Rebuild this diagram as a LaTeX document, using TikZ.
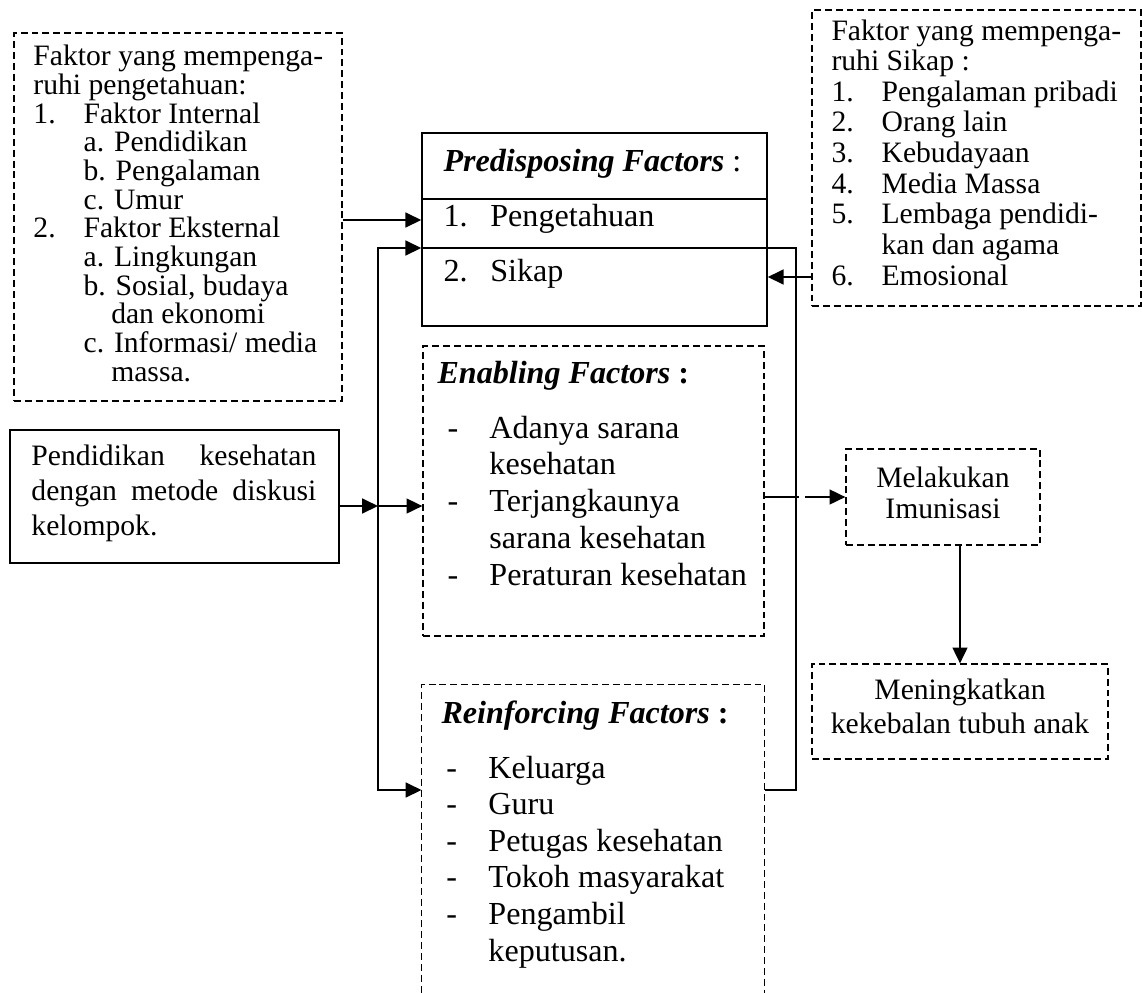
\documentclass[tikz,border=0pt]{standalone}
\usepackage{fontspec}
\setmainfont{Liberation Serif}
\usetikzlibrary{arrows.meta, fit}
\tikzstyle{dashbox} = [draw, dash pattern=on 2.8pt off 1.6pt, line width=0.5pt, inner sep=0pt]
\tikzstyle{solidbox} = [draw, line width=0.6pt, inner sep=0pt]
\tikzstyle{txt} = [inner sep=0pt, anchor=base west, align=left]
\tikzstyle{ctxt} = [inner sep=0pt, anchor=base, align=center]
\tikzstyle{arrow} = [line width=0.75pt, -{Triangle[length=6.4pt,width=6pt]}]
\tikzstyle{conn} = [line width=0.55pt]
\newcommand{\lnum}[1]{\makebox[20.3pt][l]{#1}}
\newcommand{\ldash}{\makebox[17pt][l]{-}}

\begin{document}
\begin{tikzpicture}[x=0.405pt, y=-0.405pt]
\useasboundingbox (0,0) rectangle (1142,992);

% boxes
\node (kn) [dashbox, fit={(14,33) (342,401)}] {};
\node (pf) [solidbox, fit={(422,133) (767,326)}] {};
\node (ks) [dashbox, fit={(812,10) (1141,306)}] {};
\node (pk) [solidbox, fit={(10,430) (339,563)}] {};
\node (ef) [dashbox, fit={(423,346) (764,636)}] {};
\node (rf) [fit={(422,685) (764,992)}, inner sep=0pt] {};
\node (mi) [dashbox, fit={(846,449) (1040,545)}] {};
\node (mk) [dashbox, fit={(812,664) (1108,759)}] {};
\draw [dashbox] (rf.south west) |- (rf.north east) -- (rf.south east);

% rows of the predisposing box
\coordinate (row1) at (0,220);
\coordinate (row2) at (0,248);
\coordinate (row3) at (0,277);
\coordinate (row4) at (0,790);
\coordinate (pfd) at (0,199);
\draw [solidbox] (pf.west |- pfd) -- (pf.east |- pfd);
\draw [solidbox] (pf.west |- row2) -- (pf.east |- row2);

% texts (anchored at the baseline of the last line)
\node (knt) [txt, font={\fontsize{12}{11.6}\selectfont}] at (33,381) {Faktor yang mempenga-\\
ruhi pengetahuan:\\
\lnum{1.}Faktor Internal\\
\hspace*{20.3pt}a. Pendidikan\\
\hspace*{20.3pt}b. Pengalaman\\
\hspace*{20.3pt}c. Umur\\
\lnum{2.}Faktor Eksternal\\
\hspace*{20.3pt}a. Lingkungan\\
\hspace*{20.3pt}b. Sosial, budaya\\
\hspace*{31.5pt}dan ekonomi\\
\hspace*{20.3pt}c. Informasi/ media\\
\hspace*{31.5pt}massa.};

\node (pft) [txt, font={\fontsize{13}{15}\selectfont}] at (443,171) {\textbf{\textit{Predisposing Factors}} :};
\node (pf1) [txt, font={\fontsize{13}{15}\selectfont}] at (443,226) {\makebox[19pt][l]{1.}Pengetahuan};
\node (pf2) [txt, font={\fontsize{13}{15}\selectfont}] at (443,281) {\makebox[19pt][l]{2.}Sikap};

\node (kst) [txt, font={\fontsize{12}{12.4}\selectfont}] at (831,285) {Faktor yang mempenga-\\
ruhi Sikap :\\
\lnum{1.}Pengalaman pribadi\\
\lnum{2.}Orang lain\\
\lnum{3.}Kebudayaan\\
\lnum{4.}Media Massa\\
\lnum{5.}Lembaga pendidi-\\
\hspace*{20.3pt}kan dan agama\\
\lnum{6.}Emosional};

\node (pkt) [txt, font={\fontsize{12}{14}\selectfont}] at (31,535) {\makebox[115.4pt][s]{Pendidikan kesehatan}\\
\makebox[115.4pt][s]{dengan metode diskusi}\\
kelompok.};

\node (eft) [txt, font={\fontsize{13}{15}\selectfont}] at (437,383) {\textbf{\textit{Enabling Factors} :}};
\node (efi) [txt, font={\fontsize{13}{14.86}\selectfont}] at (447,585) {\ldash Adanya sarana\\
\hspace*{17pt}kesehatan\\
\ldash Terjangkaunya\\
\hspace*{17pt}sarana kesehatan\\
\ldash Peraturan kesehatan};

\node (rft) [txt, font={\fontsize{13}{15}\selectfont}] at (441,723) {\textbf{\textit{Reinforcing Factors} :}};
\node (rfi) [txt, font={\fontsize{13}{14.8}\selectfont}] at (446,961) {\ldash Keluarga\\
\ldash Guru\\
\ldash Petugas kesehatan\\
\ldash Tokoh masyarakat\\
\ldash Pengambil\\
\hspace*{17pt}keputusan.};

\node (mit) [ctxt, font={\fontsize{12}{12.55}\selectfont}] at (943,518) {Melakukan\\Imunisasi};
\node (mkt) [ctxt, font={\fontsize{12}{13.4}\selectfont}] at (960,733) {Meningkatkan\\kekebalan tubuh anak};

% connectors
\coordinate (hub) at (378,506);
\coordinate (back) at (796,520);
\draw [arrow] (kn.east |- row1) -- (pf.west |- row1);
\draw [arrow] (pk.east |- hub) -- (hub);
\draw [arrow] (hub) -- (ef.west |- hub);
\draw [arrow] (hub) |- (pf.west |- row2);
\draw [arrow] (hub) |- (rf.west |- row4);
\draw [conn] (rf.east |- row4) -| (back |- row2) -- (pf.east |- row2);
\draw [arrow] (ks.west |- row3) -- (pf.east |- row3);
\draw [conn] (ef.east |- mi.west) -- ([xshift=1.2pt]back |- mi.west);
\draw [arrow] ([xshift=3.6pt]back |- mi.west) -- (mi.west);
\draw [arrow] (mi.south -| mk.north) -- (mk.north);

\end{tikzpicture}
\end{document}
